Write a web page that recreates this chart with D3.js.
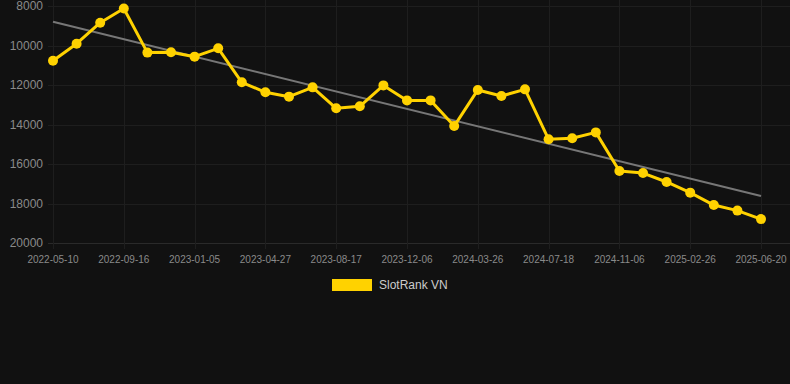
<!DOCTYPE html>
<html>
<head>
<meta charset="utf-8">
<script src="https://cdn.jsdelivr.net/npm/d3@7"></script>
<style>
  html, body { margin: 0; padding: 0; background: #111111; }
  svg { display: block; font-family: "Liberation Sans", Arial, sans-serif; }
</style>
</head>
<body>
<svg id="chart" width="790" height="384"></svg>
<script>
// ranks, one point per sample (equally spaced on the axis)
const ranks = [10770, 9910, 8845, 8130, 10360, 10345, 10565, 10143, 11865, 12370,
  12590, 12120, 13180, 13080, 12020, 12780, 12780, 14080, 12250, 12560,
  12220, 14750, 14700, 14400, 16350, 16460, 16910, 17450, 18080, 18360, 18790]
// labels shown under every third point
const tickLabels = ['2022-05-10', '2022-09-16', '2023-01-05', '2023-04-27', '2023-08-17',
  '2023-12-06', '2024-03-26', '2024-07-18', '2024-11-06', '2025-02-26', '2025-06-20']
const yTicks = [8000, 10000, 12000, 14000, 16000, 18000, 20000]
const trend = [8800, 17620] // trend line value at first and last point
const seriesName = 'SlotRank VN'

const svg = d3.select('#chart')
const plotLeft = 53
const plotRight = 761
const plotTop = 6
const plotBottom = 243

const x = d3.scaleLinear().domain([0, ranks.length - 1]).range([plotLeft, plotRight])
const y = d3.scaleLinear().domain([8000, 20000]).range([plotTop, plotBottom])

// horizontal grid
svg.append('g').selectAll('line')
  .data(yTicks)
  .join('line')
  .attr('x1', plotLeft - 5).attr('x2', 790)
  .attr('y1', (d) => Math.round(y(d)) + 0.5).attr('y2', (d) => Math.round(y(d)) + 0.5)
  .attr('stroke', (d) => d === 20000 ? '#2a2a2a' : '#1e1e1e')
  .attr('stroke-width', 1)

// vertical grid at labelled points
const tickIdx = tickLabels.map((t, i) => i * 3)
svg.append('g').selectAll('line')
  .data(tickIdx)
  .join('line')
  .attr('x1', (d) => Math.round(x(d)) + 0.5).attr('x2', (d) => Math.round(x(d)) + 0.5)
  .attr('y1', plotTop - 6).attr('y2', plotBottom + 6)
  .attr('stroke', '#1e1e1e')

// y labels
svg.append('g').selectAll('text')
  .data(yTicks)
  .join('text')
  .attr('x', 43)
  .attr('y', (d) => y(d) + 4)
  .attr('text-anchor', 'end')
  .attr('fill', '#8a8a8a')
  .attr('font-size', 12)
  .text((d) => d)

// x labels
svg.append('g').selectAll('text')
  .data(tickLabels)
  .join('text')
  .attr('x', (d, i) => x(tickIdx[i]))
  .attr('y', 263)
  .attr('text-anchor', 'middle')
  .attr('fill', '#8a8a8a')
  .attr('font-size', 10)
  .text((d) => d)

// trend line
svg.append('line')
  .attr('x1', x(0)).attr('x2', x(ranks.length - 1))
  .attr('y1', y(trend[0])).attr('y2', y(trend[1]))
  .attr('stroke', '#777777')
  .attr('stroke-width', 2)

// series line
const line = d3.line()
  .x((d, i) => x(i))
  .y((d) => y(d))
svg.append('path')
  .attr('d', line(ranks))
  .attr('fill', 'none')
  .attr('stroke', '#ffd200')
  .attr('stroke-width', 3)
  .attr('stroke-linejoin', 'round')

svg.append('g').selectAll('circle')
  .data(ranks)
  .join('circle')
  .attr('cx', (d, i) => x(i))
  .attr('cy', (d) => y(d))
  .attr('r', 5)
  .attr('fill', '#ffd200')

// legend
const legend = svg.append('g')
legend.append('rect')
  .attr('x', 332).attr('y', 279)
  .attr('width', 40).attr('height', 12)
  .attr('fill', '#ffd200')
legend.append('text')
  .attr('x', 379).attr('y', 289)
  .attr('fill', '#cccccc')
  .attr('font-size', 12)
  .text(seriesName)
</script>
</body>
</html>
